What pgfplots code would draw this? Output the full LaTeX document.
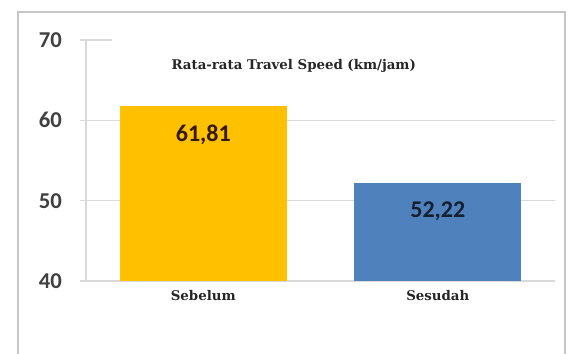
\documentclass[border=0pt]{standalone}
\usepackage{pgfplots}
\pgfplotsset{compat=1.18}
\usepackage{fontspec}
\setmainfont{DejaVu Serif}
\newfontfamily\calib{Carlito}
\definecolor{cyel}{HTML}{FFC000}
\definecolor{cblue}{HTML}{4F81BD}
\definecolor{gridc}{HTML}{D9D9D9}
\begin{document}
\begin{tikzpicture}[x=0.75pt,y=0.75pt]
\useasboundingbox (0,0) rectangle (573,353);
\fill[white] (0,0) rectangle (573,353);
\draw[gray!45, line width=1.5pt] (18,-10) -- (18,341) -- (565,341) -- (565,-10);
\begin{axis}[
  at={(86*0.75pt,72*0.75pt)}, anchor=south west,
  scale only axis, width=351.75pt, height=180.75pt,
  xmin=-0.5, xmax=1.5, ymin=40, ymax=70,
  ytick={40,50,60}, extra y ticks={70}, extra y tick style={grid=none},
  xtick={0,1}, xticklabels={Sebelum,Sesudah},
  ymajorgrids, grid style={gridc, line width=1.2pt},
  axis x line*=bottom, axis y line*=left,
  axis line style={gridc, line width=1.2pt},
  x axis line style={-}, y axis line style={-},
  /pgf/number format/assume math mode=true,
  ytick style={gridc, line width=1.2pt}, xtick style={draw=none},
  major tick length=4.5pt, tick align=outside,
  yticklabel style={font=\calib\bfseries\fontsize{17}{17}\selectfont, text=black!75, xshift=-10pt},
  xticklabel style={font=\bfseries\fontsize{10}{10}\selectfont, text=black!85, yshift=1pt},
  ybar, bar width=125.25pt,
  nodes near coords, point meta=explicit symbolic,
  every node near coord/.append style={anchor=north, yshift=-11pt, font=\calib\bfseries\fontsize{18}{18}\selectfont},
  clip=false,
]
\draw[gridc, line width=1.2pt] (axis cs:-0.5,70) -- (axis cs:-0.39,70);
\addplot[fill=cyel, draw=none, bar shift=0pt, every node near coord/.append style={text=black!80!orange}] coordinates {(0,61.81) [61,81]};
\addplot[fill=cblue, draw=none, bar shift=0pt, every node near coord/.append style={text=cblue!25!black}] coordinates {(1,52.22) [52,22]};
\node[font=\bfseries\fontsize{10}{10}\selectfont, text=black!85] at (rel axis cs:0.443,0.892) {Rata-rata Travel Speed (km/jam)};
\end{axis}
\end{tikzpicture}
\end{document}
